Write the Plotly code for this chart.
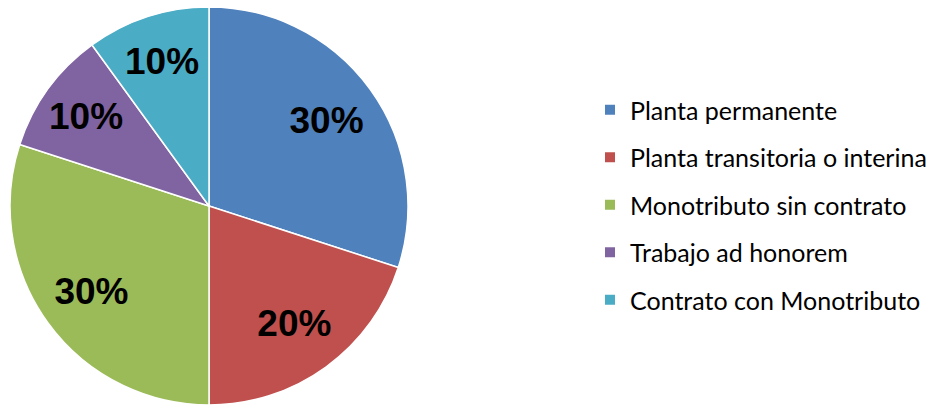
import plotly.graph_objects as go

labels = ["Planta permanente", "Planta transitoria o interina", "Monotributo sin contrato",
          "Trabajo ad honorem", "Contrato con Monotributo"]
values = [30, 20, 30, 10, 10]
colors = ["#4F81BD", "#C0504D", "#9BBB59", "#8064A2", "#4BACC6"]

W, H = 933, 407
dom = dict(x=[10/W, 408/W], y=[(H-405)/H, (H-7)/H])

fig = go.Figure()
# coloured pie
fig.add_trace(go.Pie(
    labels=labels, values=values, sort=False, direction="clockwise", rotation=0,
    marker=dict(colors=colors, line=dict(color="white", width=1.5)),
    textinfo="none", domain=dom, showlegend=False, hoverinfo="label+percent",
))
# transparent ring carrying the percentage labels
fig.add_trace(go.Pie(
    labels=labels, values=values, sort=False, direction="clockwise", rotation=0,
    hole=0.46,
    marker=dict(colors=["rgba(0,0,0,0)"] * len(values), line=dict(width=0)),
    textinfo="percent", textposition="inside", insidetextorientation="horizontal",
    texttemplate="%{percent:.0%}",
    textfont=dict(family="Liberation Sans", size=37, color="black", weight="bold"),
    domain=dom, showlegend=False, hoverinfo="skip",
))

for lab, col in zip(labels, colors):
    fig.add_trace(go.Scatter(
        x=[None], y=[None], mode="markers", name=lab, legendgroup=lab,
        marker=dict(symbol="square", size=10, color=col),
        showlegend=True, hoverinfo="skip",
    ))

fig.update_layout(
    width=W, height=H, margin=dict(l=0, r=0, t=0, b=0),
    paper_bgcolor="white", plot_bgcolor="white",
    xaxis=dict(visible=False, domain=[0.9, 0.91]), yaxis=dict(visible=False),
    legend=dict(x=590/W, y=(H-205)/H, xanchor="left", yanchor="middle",
                font=dict(family="Lato", size=25, color="black"),
                tracegroupgap=12, itemwidth=30, bgcolor="rgba(0,0,0,0)"),
)
fig.write_html("out.html", config={"displayModeBar": False},
               post_script="document.body.style.margin='0';document.body.style.overflow='hidden';")
